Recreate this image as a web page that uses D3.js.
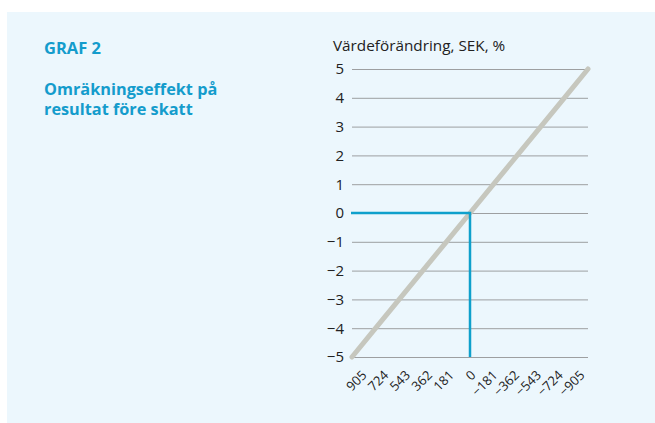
<!DOCTYPE html>
<html>
<head>
<meta charset="utf-8">
<script src="https://cdn.jsdelivr.net/npm/d3@7"></script>
<style>
  html, body { margin: 0; padding: 0; background: #ffffff; }
  svg { display: block; }
  text { font-family: "Open Sans", "Noto Sans", sans-serif; }
</style>
</head>
<body>
<svg id="chart" width="655" height="423"></svg>
<script>
// Omräkningseffekt: valutakursförändring (SEK, %) mot effekt på resultat före skatt
const categories = ["905", "724", "543", "362", "181", "0", "\u2212181", "\u2212362", "\u2212543", "\u2212724", "\u2212905"];
const change = [-5, -4, -3, -2, -1, 0, 1, 2, 3, 4, 5];
const yTicks = [5, 4, 3, 2, 1, 0, -1, -2, -3, -4, -5];
const zeroCategory = "0";
const zeroValue = 0;

const svg = d3.select("#chart");
const font = "\"Open Sans\", \"Noto Sans\", sans-serif";

// panel background
svg.append("rect").attr("x", 7).attr("y", 12).attr("width", 648).attr("height", 411).attr("fill", "#ecf7fd");

// titles
const blue = "#149ccc";
svg.append("text").attr("x", 44).attr("y", 54).attr("fill", blue)
  .attr("font-size", 16.5).attr("font-weight", 700).text("GRAF 2");
svg.append("text").attr("x", 44).attr("y", 95).attr("fill", blue)
  .attr("font-size", 16.3).attr("font-weight", 700).text("Omräkningseffekt på");
svg.append("text").attr("x", 44).attr("y", 115).attr("fill", blue)
  .attr("font-size", 16.3).attr("font-weight", 700).text("resultat före skatt");

svg.append("text").attr("x", 333).attr("y", 51).attr("fill", "#222")
  .attr("font-size", 15.3).text("Värdeförändring, SEK, %");

const x = d3.scalePoint().domain(categories).range([352, 588]);
const y = d3.scaleLinear().domain([-5, 5]).range([357, 69]);
// label positions along the bottom (slightly narrower spread than the plot)
const xLabel = d3.scalePoint().domain(categories).range([367, 585]);

// gridlines and y labels
const yAxis = d3.axisLeft(y).tickValues(yTicks).tickSize(-(588 - 352))
  .tickFormat(d => d < 0 ? "\u2212" + Math.abs(d) : String(d)).tickPadding(8);
const gy = svg.append("g").attr("transform", "translate(352,0)").call(yAxis);
gy.select(".domain").remove();
gy.selectAll(".tick line").attr("stroke", "#9d9fa1").attr("stroke-width", 1);
gy.selectAll(".tick text").attr("font-size", 15).attr("fill", "#222")
  .attr("font-family", font);

// x labels, rotated
const xAxis = d3.axisBottom(xLabel).tickSize(0).tickPadding(0);
const gx = svg.append("g").attr("transform", "translate(0,376)").call(xAxis);
gx.select(".domain").remove();
gx.selectAll(".tick text")
  .attr("font-size", 13).attr("fill", "#222")
  .attr("font-family", font)
  .attr("text-anchor", "end")
  .attr("dy", null).attr("y", 0)
  .attr("transform", "rotate(-45)");

// main line
const line = d3.line().x((d, i) => x(categories[i])).y(d => y(d));
svg.append("path").datum(change).attr("d", line)
  .attr("fill", "none").attr("stroke", "#c6c7be").attr("stroke-width", 5)
  .attr("stroke-linecap", "round");

// zero reference lines
svg.append("path")
  .attr("d", d3.line()([[x.range()[0] - 1, y(zeroValue)], [x(zeroCategory), y(zeroValue)], [x(zeroCategory), y(-5)]]))
  .attr("fill", "none").attr("stroke", "#0ea0cc").attr("stroke-width", 2.5);
</script>
</body>
</html>
